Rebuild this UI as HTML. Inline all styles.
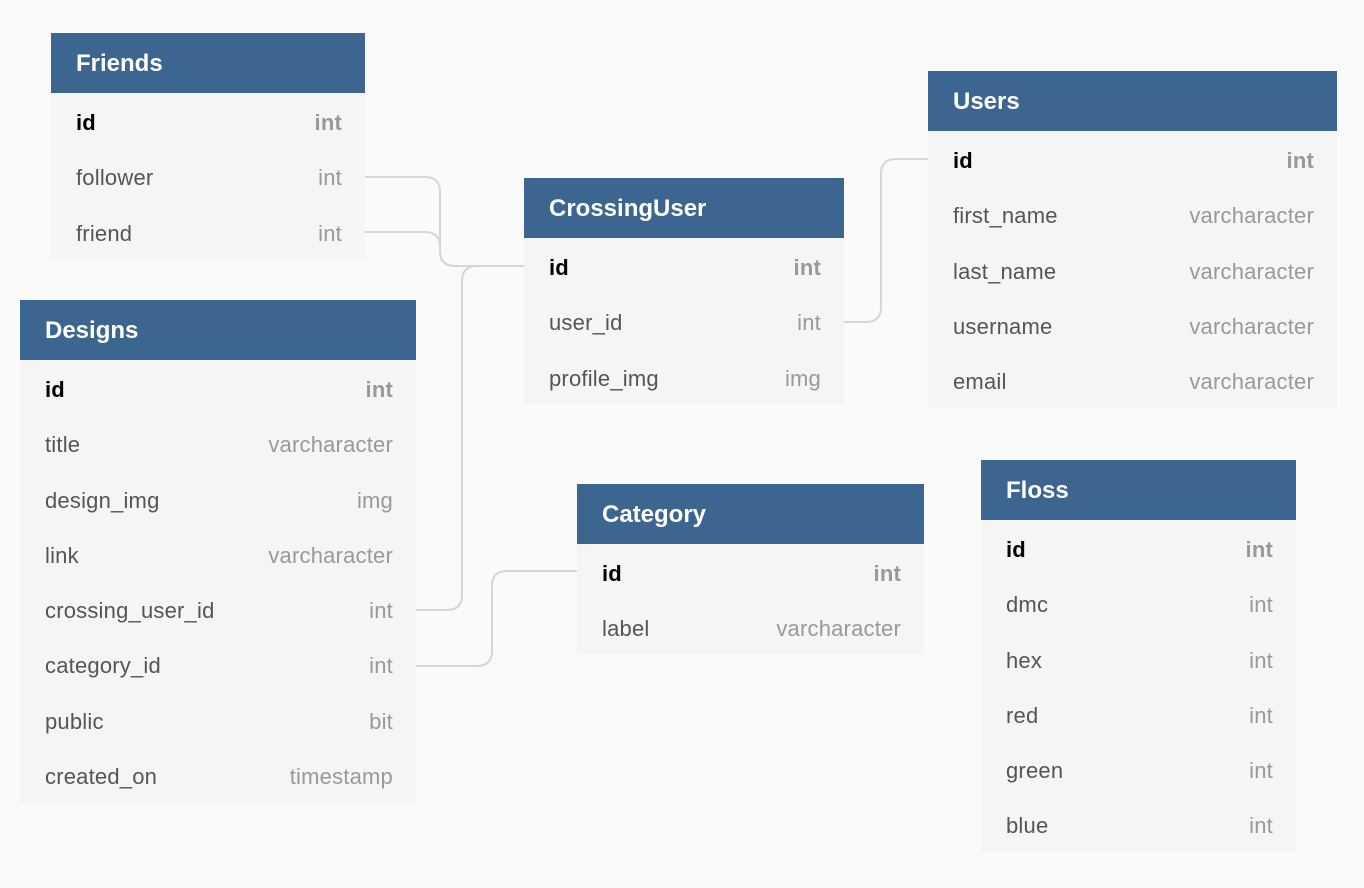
<!DOCTYPE html>
<html><head><style>
body{margin:0;width:1364px;height:888px;background:#fafafa;font-family:"Liberation Sans",sans-serif;position:relative;overflow:hidden}
.t{position:absolute;background:#f5f5f5}
.h{height:60px;background:#3c6690;color:#fff;font-weight:bold;font-size:24px;line-height:62px;padding-left:25px;box-sizing:border-box}
.r{height:55.3px;line-height:59px;font-size:22px;color:#555;padding:0 23px 0 25px;display:flex;justify-content:space-between;letter-spacing:0.2px}
.r span:last-child{color:#999}
.r.k{font-weight:bold;color:#000}
.r.k span:last-child{color:#999}
svg{position:absolute;left:0;top:0}
</style></head><body>
<svg width="1364" height="888"><g fill="none" stroke="#d6d6d6" stroke-width="2">
<path d="M365 177 H425 Q440 177 440 192 V251 Q440 266 455 266 H524"/>
<path d="M365 232 H425 Q440 232 440 247 V251 Q440 266 455 266"/>
<path d="M416 610 H447 Q462 610 462 595 V281 Q462 266 477 266"/>
<path d="M844 322 H866 Q881 322 881 307 V174 Q881 159 896 159 H928"/>
<path d="M416 666 H477 Q492 666 492 651 V586 Q492 571 507 571 H577"/>
</g></svg>
<div class="t" style="left:51px;top:33px;width:314px;height:226px"><div class="h">Friends</div>
<div class="r k"><span>id</span><span>int</span></div><div class="r"><span>follower</span><span>int</span></div><div class="r"><span>friend</span><span>int</span></div></div>
<div class="t" style="left:928px;top:71px;width:409px;height:337px"><div class="h">Users</div>
<div class="r k"><span>id</span><span>int</span></div><div class="r"><span>first_name</span><span>varcharacter</span></div><div class="r"><span>last_name</span><span>varcharacter</span></div><div class="r"><span>username</span><span>varcharacter</span></div><div class="r"><span>email</span><span>varcharacter</span></div></div>
<div class="t" style="left:524px;top:178px;width:320px;height:226px"><div class="h">CrossingUser</div>
<div class="r k"><span>id</span><span>int</span></div><div class="r"><span>user_id</span><span>int</span></div><div class="r"><span>profile_img</span><span>img</span></div></div>
<div class="t" style="left:20px;top:300px;width:396px;height:503px"><div class="h">Designs</div>
<div class="r k"><span>id</span><span>int</span></div><div class="r"><span>title</span><span>varcharacter</span></div><div class="r"><span>design_img</span><span>img</span></div><div class="r"><span>link</span><span>varcharacter</span></div><div class="r"><span>crossing_user_id</span><span>int</span></div><div class="r"><span>category_id</span><span>int</span></div><div class="r"><span>public</span><span>bit</span></div><div class="r"><span>created_on</span><span>timestamp</span></div></div>
<div class="t" style="left:577px;top:484px;width:347px;height:170px"><div class="h">Category</div>
<div class="r k"><span>id</span><span>int</span></div><div class="r"><span>label</span><span>varcharacter</span></div></div>
<div class="t" style="left:981px;top:460px;width:315px;height:392px"><div class="h">Floss</div>
<div class="r k"><span>id</span><span>int</span></div><div class="r"><span>dmc</span><span>int</span></div><div class="r"><span>hex</span><span>int</span></div><div class="r"><span>red</span><span>int</span></div><div class="r"><span>green</span><span>int</span></div><div class="r"><span>blue</span><span>int</span></div></div>
</body></html>
